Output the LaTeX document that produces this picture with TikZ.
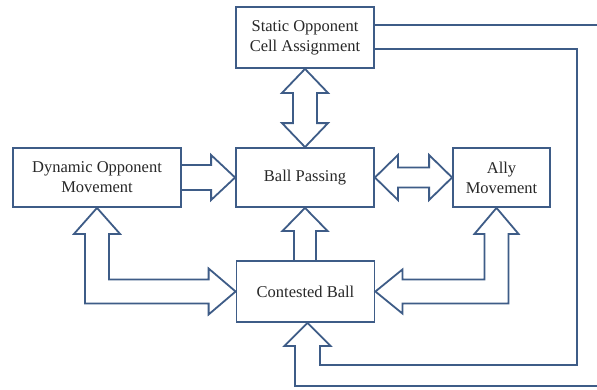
\documentclass[tikz,border=0pt]{standalone}
\usepackage{fontspec}
\setmainfont{Liberation Serif}
\usetikzlibrary{calc}
\definecolor{edge}{RGB}{62,92,135}
\definecolor{ink}{RGB}{40,40,40}
\begin{document}
\begin{tikzpicture}[x=1pt,y=-1pt,
  box/.style={draw=edge,line width=1.8pt,fill=white,inner sep=0pt,align=center,
    text=ink,font=\fontsize{16.5}{20}\selectfont},
  blk/.style={draw=edge,line width=1.8pt,line join=miter}]
\useasboundingbox[fill=white] (0,0) rectangle (597,389);

% boxes
\node[box,minimum width=138pt,minimum height=61pt] (st) at (305,37.5) {Static Opponent\\Cell Assignment};
\node[box,minimum width=168pt,minimum height=59pt] (dyn) at (97,177.5) {Dynamic Opponent\\Movement};
\node[box,minimum width=138pt,minimum height=59pt] (bp) at (305,177.5) {Ball Passing};
\node[box,minimum width=97pt,minimum height=59pt] (ally) at (501.5,177.5) {Ally\\Movement};
\node[box,minimum width=138pt,minimum height=61pt] (cb) at (305.5,291.5) {Contested Ball};

% helper points for the bent arrows
\coordinate (lc) at (dyn.south |- cb.west);
\coordinate (rt) at ($(ally.south)+(-5,0)$);
\coordinate (rc) at (rt |- cb.east);
\coordinate (bt) at ($(cb.south)+(2,0)$);
\coordinate (outerC) at (605,386);
\coordinate (innerC) at (577,365);

% static <-> ball passing
\draw[blk] (st.south) -- ++(23,24) -- ++(-11,0) -- ($(bp.north)+(12,-24)$) -- ++(11,0)
  -- (bp.north) -- ++(-23,-24) -- ++(11,0) -- ($(st.south)+(-12,24)$) -- ++(-11,0) -- cycle;

% dynamic -> ball passing
\draw[blk] ($(dyn.east)+(0,-12.5)$) -- ($(bp.west)+(-24,-12.5)$) -- ++(0,-10) -- (bp.west)
  -- ($(bp.west)+(-24,22.5)$) -- ++(0,-10) -- ($(dyn.east)+(0,12.5)$);

% ball passing <-> ally
\draw[blk] (bp.east) -- ++(23,-22.5) -- ++(0,12.5) -- ($(ally.west)+(-23,-10)$) -- ++(0,-12.5)
  -- (ally.west) -- ++(-23,22.5) -- ++(0,-12.5) -- ($(bp.east)+(23,10)$) -- ++(0,12.5) -- cycle;

% contested -> ball passing
\draw[blk] ($(cb.north)+(-11.5,0)$) -- ($(bp.south)+(-11,23)$) -- ++(-11.5,0) -- (bp.south)
  -- ++(22.5,23) -- ++(-11.5,0) -- ($(cb.north)+(10.5,0)$);

% dynamic <-> contested
\draw[blk] (dyn.south) -- ++(23,26) -- ++(-11,0) -- ($(lc)+(12,-12)$) -- ($(cb.west)+(-27,-12)$)
  -- ++(0,-11) -- (cb.west) -- ++(-27,23) -- ++(0,-11) -- ($(lc)+(-12,12)$)
  -- ($(dyn.south)+(-12,26)$) -- ++(-11,0) -- cycle;

% ally <-> contested
\draw[blk] (rt) -- ++(22,26) -- ++(-10,0) -- ($(rc)+(12,12)$) -- ($(cb.east)+(27,12)$)
  -- ++(0,10) -- (cb.east) -- ++(27,-22) -- ++(0,10) -- ($(rc)+(-12,-12)$)
  -- ($(rt)+(-12,26)$) -- ++(-10,0) -- cycle;

% static -> contested, looping round the right side
\draw[blk] ($(st.east)+(0,-12.5)$) -| (outerC) -| ($(bt)+(-12.5,23)$) -- ++(-10.5,0) -- (bt)
  -- ++(23,23) -- ++(-10.5,0) |- (innerC) |- ($(st.east)+(0,11.5)$);
\end{tikzpicture}
\end{document}
